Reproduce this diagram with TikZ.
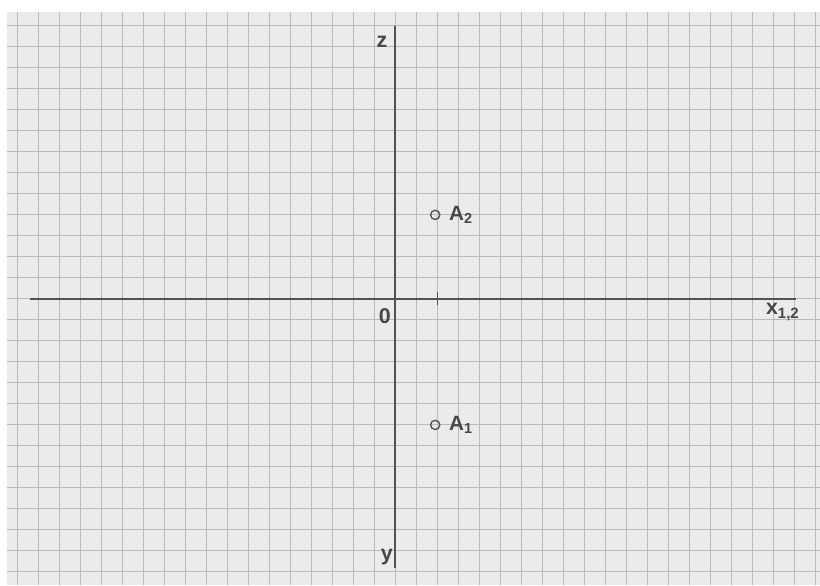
\documentclass[tikz,border=0pt]{standalone}
\usepackage{fontspec}
\setmainfont{Liberation Sans}
\usetikzlibrary{positioning}
\tikzset{%
  % Specifications for style of the squared sheet:
       sheet/.style = {fill=black!8, draw=none},
    gridline/.style = {draw=black!27, line width=0.7pt},
  % Specifications for style of axes and labels:
        axis/.style = {draw=black!68, line width=1.3pt},
      axtick/.style = {draw=black!68, line width=0.9pt},
   axislabel/.style = {inner sep=0pt, text=black!72,
                       font=\fontsize{14.5}{14.5}\selectfont\bfseries},
  % Specifications for style of points:
       point/.style = {circle, draw=black!68, line width=0.9pt,
                       minimum size=2.2mm, inner sep=0pt},
  pointlabel/.style = {inner sep=0pt, text=black!72,
                       font=\fontsize{14}{14}\selectfont\bfseries}
}

\begin{document}
\begin{tikzpicture}[x=0.5cm, y=0.5cm]
  \useasboundingbox (-18.82,-13.63) rectangle (20.22,14.23);
  \fill[white] (-18.82,-13.63) rectangle (20.22,14.23);
  \path[sheet] (-18.49,-13.63) rectangle (20.22,13.66);
  \foreach \i in {-18,...,20}
    \draw[gridline] (\i,-13.63) -- (\i,13.66);
  \foreach \j in {-13,...,13}
    \draw[gridline] (-18.49,\j) -- (20.22,\j);

  % axes
  \coordinate (zend)   at (0,13);
  \coordinate (yend)   at (0,-12.8);
  \coordinate (xleft)  at (-17.4,0);
  \coordinate (xright) at (19.1,0);
  \coordinate (tickup)   at (2,0.33);
  \coordinate (tickdown) at (2,-0.3);

  \draw[axis]   (yend) -- (zend);
  \draw[axis]   (xleft) -- (xright);
  \draw[axtick] (tickup) -- (tickdown);

  \node (zlabel) [axislabel] at (-0.63,12.23) {z};
  \node (olabel) [axislabel] at (-0.5,-0.82)  {0};
  \node (xlabel) [axislabel] at (18.45,-0.62) {x\textsubscript{1,2}};
  \node (ylabel) [axislabel] at (-0.4,-12.3)  {y};

  % points
  \node (a2) [point] at (1.9,4)  {};
  \node (a1) [point] at (1.9,-6) {};
  \node (a2label) [pointlabel, right=0.2cm of a2] {A\textsubscript{2}};
  \node (a1label) [pointlabel, right=0.2cm of a1] {A\textsubscript{1}};
\end{tikzpicture}
\end{document}
